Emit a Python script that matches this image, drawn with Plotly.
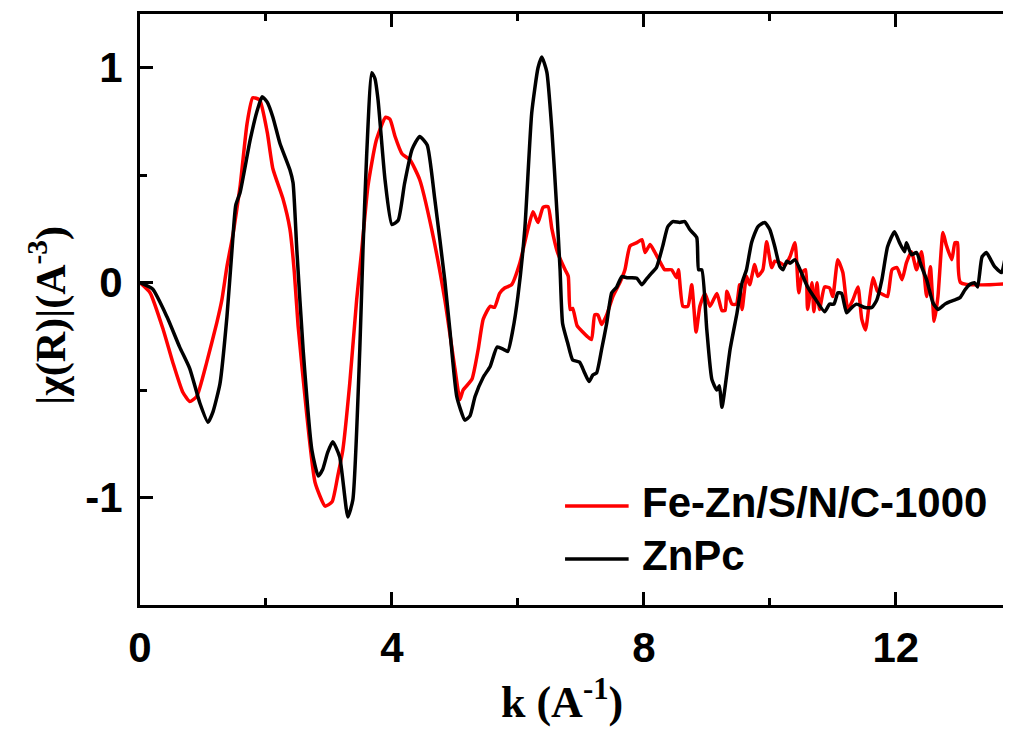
import plotly.graph_objects as go

# Fe-Zn/S/N/C-1000 (red)
red_k = [0, 0.16, 0.37, 0.52, 0.68, 0.79, 0.9, 1.06, 1.22, 1.3, 1.38, 1.48, 1.59, 1.7, 1.79, 1.9, 2.02, 2.11, 2.27, 2.38, 2.45, 2.51, 2.65, 2.78, 2.94, 3.05, 3.14, 3.22, 3.33, 3.44, 3.52, 3.62, 3.75, 3.9, 3.97, 4.05, 4.16, 4.29, 4.44, 4.63, 4.84, 5.0, 5.08, 5.13, 5.27, 5.37, 5.45, 5.56, 5.63, 5.71, 5.79, 5.9, 6.03, 6.16, 6.24, 6.32, 6.40, 6.48, 6.54, 6.63, 6.75, 6.8, 6.83, 6.87, 6.94, 7.03, 7.1, 7.17, 7.22, 7.27, 7.33, 7.41, 7.51, 7.62, 7.7, 7.78, 7.89, 7.97, 8.02, 8.1, 8.17, 8.28, 8.33, 8.44, 8.52, 8.55, 8.62, 8.7, 8.76, 8.83, 8.89, 8.97, 9.05, 9.16, 9.24, 9.29, 9.32, 9.4, 9.47, 9.52, 9.56, 9.63, 9.68, 9.76, 9.81, 9.89, 9.95, 10.03, 10.08, 10.16, 10.24, 10.32, 10.4, 10.46, 10.52, 10.57, 10.6, 10.67, 10.7, 10.75, 10.79, 10.87, 10.95, 11.0, 11.08, 11.16, 11.24, 11.32, 11.4, 11.46, 11.52, 11.59, 11.64, 11.71, 11.8, 11.87, 11.94, 12.02, 12.1, 12.17, 12.25, 12.33, 12.41, 12.49, 12.55, 12.61, 12.67, 12.75, 12.8, 12.89, 12.94, 12.98, 13.03, 14.0]
red_y = [0, -0.047, -0.22, -0.37, -0.51, -0.553, -0.53, -0.37, -0.186, -0.08, 0.074, 0.23, 0.45, 0.74, 0.86, 0.85, 0.70, 0.53, 0.39, 0.25, 0.05, -0.2, -0.62, -0.93, -1.04, -1.02, -0.9, -0.78, -0.47, -0.08, 0.15, 0.45, 0.66, 0.77, 0.76, 0.68, 0.6, 0.57, 0.48, 0.25, -0.08, -0.4, -0.544, -0.5, -0.45, -0.31, -0.17, -0.11, -0.115, -0.05, -0.025, -0.01, 0.09, 0.25, 0.33, 0.28, 0.35, 0.354, 0.25, 0.14, 0.06, 0.03, -0.125, -0.12, -0.2, -0.23, -0.25, -0.265, -0.15, -0.15, -0.195, -0.15, -0.064, 0.0, 0.06, 0.17, 0.186, 0.2, 0.14, 0.177, 0.144, 0.084, 0.06, 0.06, 0.023, 0.06, -0.11, -0.11, -0.01, -0.23, -0.11, -0.05, -0.11, -0.05, -0.13, -0.13, -0.04, -0.1, -0.1, -0.01, -0.125, 0.03, -0.01, 0.084, 0.03, 0.06, 0.19, 0.07, 0.1, 0.093, 0.08, 0.12, 0.186, -0.047, 0.05, 0.06, -0.125, 0.0, -0.135, 0.0, -0.125, -0.02, -0.025, -0.065, 0.107, 0.047, -0.125, -0.08, -0.02, -0.17, -0.22, -0.065, 0.023, -0.04, -0.056, -0.065, 0.06, 0.07, 0.014, 0.093, 0.144, 0.06, 0.144, -0.065, 0.074, -0.18, -0.065, 0.233, 0.177, 0.107, 0.186, 0.186, 0.0, 0.0]

# ZnPc (black)
black_k = [0, 0.2, 0.43, 0.63, 0.79, 0.95, 1.08, 1.16, 1.27, 1.38, 1.46, 1.52, 1.59, 1.75, 1.86, 1.94, 2.02, 2.11, 2.22, 2.38, 2.43, 2.49, 2.59, 2.73, 2.83, 2.9, 2.98, 3.06, 3.17, 3.3, 3.38, 3.49, 3.54, 3.6, 3.68, 3.73, 3.78, 3.89, 4.0, 4.1, 4.2, 4.32, 4.44, 4.56, 4.68, 4.84, 4.92, 5.03, 5.16, 5.24, 5.32, 5.45, 5.56, 5.67, 5.77, 5.84, 5.92, 6.0, 6.11, 6.22, 6.32, 6.38, 6.46, 6.54, 6.62, 6.67, 6.71, 6.79, 6.87, 6.98, 7.06, 7.13, 7.19, 7.25, 7.33, 7.41, 7.49, 7.57, 7.65, 7.73, 7.81, 7.89, 7.97, 8.05, 8.13, 8.2, 8.3, 8.38, 8.46, 8.57, 8.65, 8.73, 8.84, 8.87, 8.92, 9.0, 9.08, 9.16, 9.2, 9.24, 9.37, 9.48, 9.56, 9.63, 9.71, 9.81, 9.92, 10.0, 10.08, 10.16, 10.21, 10.27, 10.32, 10.4, 10.5, 10.6, 10.71, 10.87, 10.95, 11.02, 11.08, 11.14, 11.22, 11.3, 11.38, 11.51, 11.62, 11.7, 11.78, 11.87, 11.98, 12.06, 12.14, 12.17, 12.25, 12.33, 12.41, 12.49, 12.59, 12.67, 12.78, 12.86, 12.94, 13.02, 13.1, 13.17, 13.25, 13.3, 13.37, 13.44, 13.52, 13.57, 13.68, 13.76, 13.81, 13.9]
black_y = [0, -0.03, -0.16, -0.3, -0.40, -0.56, -0.65, -0.6, -0.47, -0.16, 0.15, 0.36, 0.42, 0.665, 0.80, 0.865, 0.84, 0.77, 0.65, 0.525, 0.465, 0.153, -0.31, -0.78, -0.9, -0.87, -0.79, -0.74, -0.81, -1.09, -1.01, -0.31, 0.15, 0.6, 0.977, 0.95, 0.85, 0.48, 0.27, 0.29, 0.46, 0.62, 0.68, 0.64, 0.39, 0.01, -0.22, -0.53, -0.64, -0.62, -0.53, -0.44, -0.39, -0.3, -0.31, -0.32, -0.22, -0.065, 0.25, 0.79, 1.0, 1.05, 0.98, 0.71, 0.33, 0.06, -0.19, -0.28, -0.36, -0.37, -0.42, -0.46, -0.43, -0.42, -0.31, -0.19, -0.047, -0.02, 0.028, 0.023, 0.023, 0.02, -0.01, 0.02, 0.047, 0.07, 0.17, 0.26, 0.284, 0.28, 0.284, 0.247, 0.21, 0.06, 0.06, -0.22, -0.45, -0.5, -0.48, -0.58, -0.31, -0.14, 0.0, 0.06, 0.186, 0.26, 0.28, 0.247, 0.167, 0.074, 0.06, 0.1, 0.09, 0.107, 0.047, -0.02, -0.07, -0.135, -0.1, -0.1, -0.047, -0.05, -0.14, -0.116, -0.1, -0.116, -0.116, -0.08, 0.014, 0.167, 0.237, 0.186, 0.144, 0.186, 0.13, 0.14, 0.074, 0.014, -0.093, -0.125, -0.1, -0.088, -0.08, -0.07, -0.033, -0.01, 0.0, -0.02, 0.12, 0.14, 0.1, 0.074, 0.047, 0.144, 0.03, 0.1]

x_ticks = [0, 4, 8, 12]
x_ticktext = ["0", "4", "8", "12"]
y_ticks = [-1, 0, 1]
y_ticktext = ["-1", "0", "1"]

series_names = ["Fe-Zn/S/N/C-1000", "ZnPc"]
series_colors = ["#ff0000", "#000000"]

fig = go.Figure()
fig.add_trace(go.Scatter(x=red_k, y=red_y, mode="lines", name=series_names[0],
                         line=dict(color=series_colors[0], width=3.5, shape="spline", smoothing=0.5),
                         showlegend=False))
fig.add_trace(go.Scatter(x=black_k, y=black_y, mode="lines", name=series_names[1],
                         line=dict(color=series_colors[1], width=3.5, shape="spline", smoothing=0.5),
                         showlegend=False))

tickfont = dict(family="Liberation Sans, Arial, sans-serif", size=42, color="black", weight="bold")
titlefont = dict(family="Liberation Serif, Times New Roman, serif", size=44, color="black", weight="bold")

# the page has an 8px body margin, so the figure is sized to fit the remaining viewport
fig.update_layout(
    width=1003, height=725,
    margin=dict(l=132, r=0, t=6, b=128),
    paper_bgcolor="white", plot_bgcolor="white",
    xaxis=dict(range=[0, 13.83], tickvals=x_ticks, ticktext=x_ticktext,
               ticks="inside", ticklen=13, tickwidth=3, tickcolor="black",
               minor=dict(ticks="inside", ticklen=7, tickwidth=3, tickcolor="black", dtick=2, tick0=0, showgrid=False),
               showline=True, linewidth=3, linecolor="black", mirror="ticks",
               showgrid=False, zeroline=False, tickfont=tickfont, ticklabelstandoff=4),
    yaxis=dict(range=[-1.5, 1.25], tickvals=y_ticks, ticktext=y_ticktext,
               ticks="inside", ticklen=13, tickwidth=3, tickcolor="black",
               minor=dict(ticks="inside", ticklen=7, tickwidth=3, tickcolor="black", dtick=0.5, tick0=0, showgrid=False),
               showline=True, linewidth=3, linecolor="black", mirror=False,
               showgrid=False, zeroline=False, tickfont=tickfont, ticklabelstandoff=6),
)

# axis titles
fig.add_annotation(text="|χ(R)|(A<sup>-3</sup>)", xref="paper", yref="paper",
                   x=-0.105, y=0.49, xanchor="center", yanchor="middle", textangle=-90,
                   showarrow=False, font=dict(family="Liberation Serif, Times New Roman, serif", size=42, color="black", weight="bold"))
fig.add_annotation(text="k (A<sup>-1</sup>)", xref="paper", yref="paper",
                   x=0.485, y=-0.16, xanchor="center", yanchor="middle",
                   showarrow=False, font=titlefont)

# legend
leg_font = dict(family="Liberation Sans, Arial, sans-serif", size=42, color="black", weight="bold")
leg_rows = [0.1675, 0.0778]
for name, col, yy in zip(series_names, series_colors, leg_rows):
    fig.add_shape(type="line", xref="paper", yref="paper", x0=0.488, x1=0.561, y0=yy, y1=yy,
                  line=dict(color=col, width=3.5))
    fig.add_annotation(text=name, xref="paper", yref="paper", x=0.574, y=yy + 0.006,
                       xanchor="left", yanchor="middle", showarrow=False, font=leg_font)

fig.write_html("out.html")
